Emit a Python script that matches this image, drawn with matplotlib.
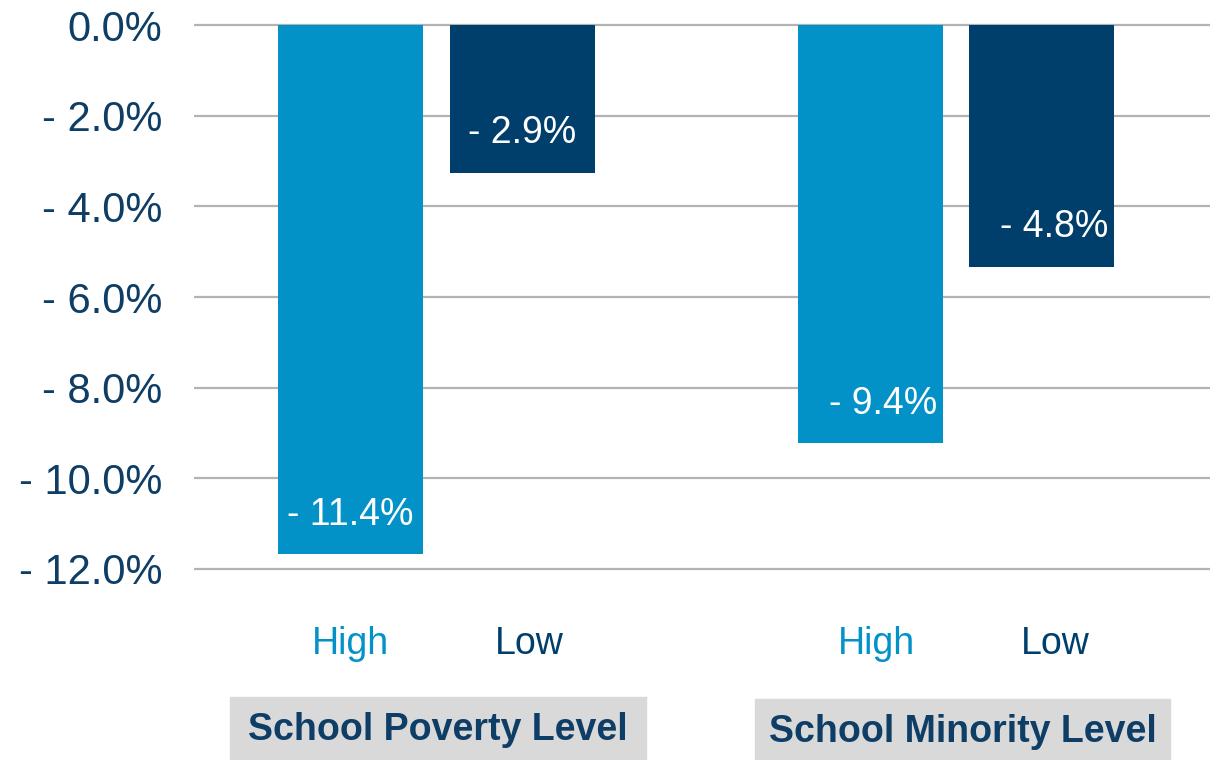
import matplotlib
matplotlib.use("Agg")
import matplotlib.pyplot as plt
from matplotlib.patches import Rectangle

plt.rcParams['font.family'] = ['Liberation Sans', 'DejaVu Sans']

# data
groups = ['School Poverty Level', 'School Minority Level']
levels = ['High', 'Low']
high_vals = [-11.68, -9.23]
low_vals = [-3.26, -5.33]
high_labels = ['- 11.4%', '- 9.4%']
low_labels = ['- 2.9%', '- 4.8%']
yticks = [0, -2, -4, -6, -8, -10, -12]
ytick_labels = ['0.0%', '- 2.0%', '- 4.0%', '- 6.0%', '- 8.0%', '- 10.0%', '- 12.0%']

c_high = '#0392C8'
c_low = '#003F6C'
c_text = '#0E3D66'

fig = plt.figure(figsize=(12.22, 7.6), dpi=100)
ax = fig.add_axes([194/1222, 0.2454, (1210-194)/1222, 0.7276])

off = 0.169
w = 0.285
xs = [0.477, 1.5]
xh = [x - off for x in xs]
xl = [x + off for x in xs]

ax.bar(xh, high_vals, width=w, color=c_high, zorder=3)
ax.bar(xl, low_vals, width=w, color=c_low, zorder=3)

# value labels sit a little right of centre in the second group
lbl_shift = [0.0, 0.025]
for x, v, t, d in zip(xh, high_vals, high_labels, lbl_shift):
    ax.text(x + d, v + 0.88, t, ha='center', va='center', color='white', fontsize=27, zorder=4)
for x, v, t, d in zip(xl, low_vals, low_labels, lbl_shift):
    ax.text(x + d, v + 0.88, t, ha='center', va='center', color='white', fontsize=27, zorder=4)

ax.set_xlim(0, 2)
ax.set_ylim(-12.1, 0.1)
ax.set_yticks(yticks)
ax.set_yticklabels(ytick_labels, fontsize=30, color=c_text)
ax.tick_params(axis='y', length=0, pad=23)
ax.yaxis.grid(True, color='#B3B3B3', linewidth=1.6, zorder=0)
ax.set_axisbelow(True)
for s in ax.spines.values():
    s.set_visible(False)

tick_pos = [xh[0], xh[1] + 0.012, xl[0] + 0.014, xl[1] + 0.027]
ax.set_xticks(tick_pos)
ax.set_xticklabels(levels[:1] * 2 + levels[1:] * 2, fontsize=27)
ax.tick_params(axis='x', length=0, pad=38)
for lbl, col in zip(ax.get_xticklabels(), [c_high, c_high, c_low, c_low]):
    lbl.set_color(col)

# group boxes under the axis
boxes = [(230, 646, 697), (755, 1170, 699)]
for (x0, x1, y0), g in zip(boxes, groups):
    fig.patches.append(Rectangle((x0/1222, 0), (x1-x0)/1222, (760-y0)/760,
                                 transform=fig.transFigure, color='#D9D9D9', zorder=0))
    fig.text((x0+x1)/2/1222, 1 - (y0+33)/760, g, ha='center', va='center',
             fontsize=27, fontweight='bold', color=c_text)

fig.savefig('out.png', dpi=100)
